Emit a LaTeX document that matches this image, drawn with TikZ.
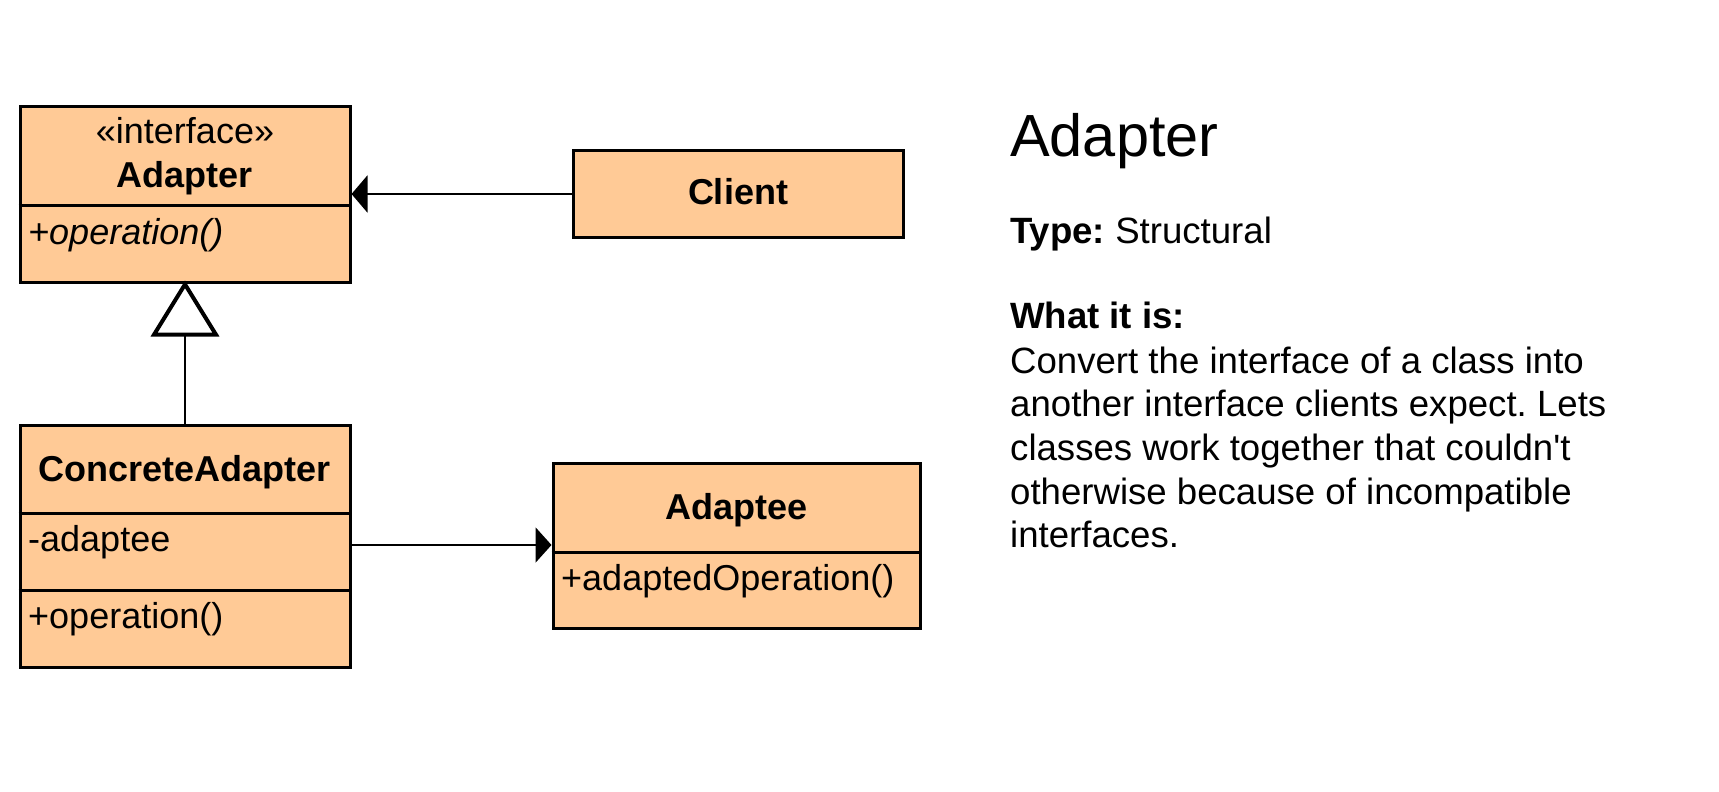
\documentclass[tikz,border=0pt]{standalone}
\usepackage{fontspec}
\setmainfont{Liberation Sans}
\usetikzlibrary{arrows.meta}
\definecolor{classfill}{HTML}{FFCA96}
\begin{document}
\frenchspacing
\begin{tikzpicture}[x=1pt,y=-1pt,
  classbox/.style={draw=black, fill=classfill, line width=3pt, rectangle, inner sep=0pt},
  divider/.style={line width=3pt},
  boxtext/.style={inner sep=0pt, font=\fontsize{36}{40}\selectfont},
  desctext/.style={inner sep=0pt, anchor=base west, font=\fontsize{36.6}{40}\selectfont},
  link/.style={line width=2.5pt}
]
\useasboundingbox (0,0) rectangle (1719,792);

% class boxes
\node (adapter) [classbox, minimum width=330pt, minimum height=176pt] at (185,194) {};
\node (client) [classbox, minimum width=330pt, minimum height=87pt] at (738,194) {};
\node (concrete) [classbox, minimum width=330pt, minimum height=242pt] at (185,546) {};
\node (adaptee) [classbox, minimum width=367pt, minimum height=165pt] at (736.5,545.5) {};

% compartment dividers
\draw[divider] (adapter.west |- 0,205) -- (adapter.east |- 0,205);
\draw[divider] (concrete.west |- 0,513) -- (concrete.east |- 0,513);
\draw[divider] (concrete.west |- 0,590) -- (concrete.east |- 0,590);
\draw[divider] (adaptee.west |- 0,552) -- (adaptee.east |- 0,552);

% class texts
\node (adstereo) [boxtext, anchor=base] at (185,143) {«interface»};
\node (adname) [boxtext, anchor=base, font=\fontsize{36}{40}\selectfont\bfseries] at (185,187) {Adapter};
\node (adop) [boxtext, anchor=base west, font=\fontsize{36}{40}\selectfont\itshape] at (28,244) {+operation()};
\node (clname) [boxtext, anchor=base, font=\fontsize{36}{40}\selectfont\bfseries] at (738,204) {Client};
\node (caname) [boxtext, anchor=base, font=\fontsize{36}{40}\selectfont\bfseries] at (185,481) {ConcreteAdapter};
\node (caattr) [boxtext, anchor=base west] at (28,551) {-adaptee};
\node (caop) [boxtext, anchor=base west] at (28,628) {+operation()};
\node (aename) [boxtext, anchor=base, font=\fontsize{36}{40}\selectfont\bfseries] at (736.5,519) {Adaptee};
\node (aeop) [boxtext, anchor=base west] at (561,590) {+adaptedOperation()};

% relations
\draw[link, -{Triangle[length=16pt, width=37pt]}] (client.west) -- (adapter.east);
\draw[link, -{Triangle[length=16pt, width=35pt]}] (concrete.east |- 0,545) -- (adaptee.west |- 0,545);
\draw[link, shorten >=-3pt, -{Triangle[open, length=56pt, width=68pt, line width=4pt]}] (concrete.north) -- (adapter.south);

% description
\node (title) [inner sep=0pt, anchor=base west, font=\fontsize{59.5}{66}\selectfont] at (1010,156) {Adapter};
\node (type) [desctext] at (1010,243) {\textbf{Type:} Structural};
\node (whathead) [desctext] at (1010,328) {\textbf{What it is:}};
\node (d1) [desctext] at (1010,373) {Convert the interface of a class into};
\node (d2) [desctext] at (1010,416.7) {another interface clients expect. Lets};
\node (d3) [desctext] at (1010,460.3) {classes work together that couldn\textquotesingle t};
\node (d4) [desctext] at (1010,504) {otherwise because of incompatible};
\node (d5) [desctext] at (1010,547.6) {interfaces.};
\end{tikzpicture}
\end{document}
